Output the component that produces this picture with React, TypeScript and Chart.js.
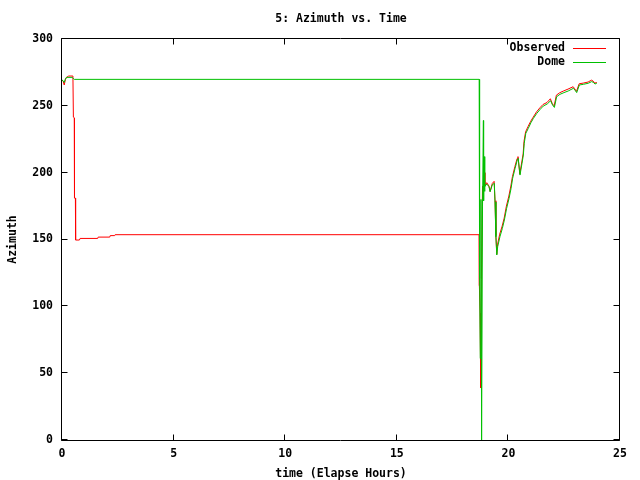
import React, { useEffect, useRef } from 'react';
import { Chart, registerables } from 'chart.js';

Chart.register(...registerables);

const chartTitle = '5: Azimuth vs. Time';
const xTitle = 'time (Elapse Hours)';
const yTitle = 'Azimuth';
const seriesLabels = ['Observed', 'Dome'];
const seriesColors = ['#ff0000', '#00c000'];

const xTicks = [0, 5, 10, 15, 20, 25];
const yTicks = [0, 50, 100, 150, 200, 250, 300];

const obsTime = [
  0.0, 0.05, 0.1, 0.15, 0.2, 0.3, 0.49, 0.51, 0.55, 0.56, 0.6, 0.61, 0.78, 0.81, 1.6, 1.62, 2.14, 2.16, 2.36, 2.38,
  18.69, 18.7, 18.73, 18.76, 18.76, 18.79, 18.84, 18.88, 18.91, 18.95, 19.03, 19.13, 19.18, 19.28, 19.36, 19.4,
  19.44, 19.48, 19.51, 19.61, 19.72, 19.81, 19.91, 20.02, 20.11, 20.18, 20.29, 20.39, 20.43, 20.51, 20.6, 20.66,
  20.7, 20.77, 20.88, 21.0, 21.11, 21.26, 21.41, 21.55, 21.73, 21.88, 21.97, 22.05, 22.15, 22.3, 22.48, 22.67,
  22.9, 22.97, 23.05, 23.17, 23.35, 23.57, 23.72, 23.79, 23.87, 23.96,
];
const obsAzimuth = [
  269.3, 268.5, 265.6, 269.5, 271.3, 272.3, 272.3, 241.5, 241, 181, 181, 149.6, 149.6, 150.8, 150.8, 151.8, 151.8,
  152.9, 152.9, 153.6, 153.6, 115.4, 95, 68, 39, 120, 190, 182, 200, 190, 192.5, 190, 186, 192, 193.5, 179, 153,
  139, 146, 154, 160, 166, 175, 182.5, 190, 197, 204.5, 210.5, 212, 199, 208, 214, 223.5, 230.5, 234.5, 238.5,
  241.5, 245.5, 248.5, 251, 252.5, 255.3, 251.5, 250, 258, 259.8, 261.2, 262.5, 264.3, 262.8, 260.8, 266.5, 267,
  267.8, 269.2, 268.6, 267, 267.5,
];

const domeTime = [
  0.0, 0.05, 0.1, 0.15, 0.2, 0.45, 0.55, 18.69, 18.7, 18.72, 18.74, 18.77, 18.8, 18.84, 18.88, 18.89, 18.91, 18.93,
  18.95, 19.03, 19.13, 19.18, 19.28, 19.37, 19.4, 19.44, 19.48, 19.52, 19.62, 19.73, 19.82, 19.92, 20.03, 20.12,
  20.19, 20.3, 20.4, 20.44, 20.52, 20.61, 20.67, 20.71, 20.78, 20.89, 21.01, 21.12, 21.27, 21.42, 21.56, 21.74,
  21.89, 21.98, 22.06, 22.16, 22.31, 22.49, 22.68, 22.91, 22.98, 23.06, 23.18, 23.36, 23.58, 23.73, 23.8, 23.88,
  23.96,
];
const domeAzimuth = [
  269.3, 268.8, 267.5, 270, 271.3, 271.3, 269.8, 269.8, 203, 121, 61, 180, 0, 175, 239, 179, 212, 186, 189.5,
  191.5, 189.5, 185.7, 191, 192, 178, 152, 138.4, 144.6, 152, 158.3, 164.6, 173.3, 180.8, 188.3, 195.8, 203.3,
  209.5, 210.7, 198.2, 207, 213.2, 222, 229.4, 233.1, 237.4, 240.6, 244.3, 247.3, 249.8, 251.4, 253.8, 250.6,
  248.8, 256.8, 258.6, 259.9, 261.1, 263.1, 261.8, 259.9, 265.6, 266.1, 266.9, 268.1, 267.6, 266.3, 266.9,
];

const FONT_FAMILY = '"DejaVu Sans Mono", "Liberation Mono", monospace';
const FONT = { family: FONT_FAMILY, size: 11.5, weight: 'bold' as const, lineHeight: 1.2 };
const XTITLE_FONT = { family: FONT_FAMILY, size: 11.5, weight: 'bold' as const, lineHeight: 1.0 };

const toPoints = (xs: number[], ys: number[]) => xs.map((x, i) => ({ x, y: ys[i] }));

const framePlugin = {
  id: 'gnuplotFrame',
  afterDatasetsDraw(chart: any) {
    const { ctx, chartArea: a, scales } = chart;
    const L = Math.round(a.left) - 0.5;
    const R = Math.round(a.right) - 0.5;
    const T = Math.round(a.top) - 0.5;
    const B = Math.round(a.bottom) + 0.5;
    const len = 6;
    ctx.save();
    ctx.strokeStyle = '#000';
    ctx.lineWidth = 1;
    ctx.beginPath();
    ctx.rect(L, T, R - L, B - T);
    for (const v of xTicks) {
      const px = Math.round(scales.x.getPixelForValue(v)) - 0.5;
      ctx.moveTo(px, B);
      ctx.lineTo(px, B - len);
      ctx.moveTo(px, T);
      ctx.lineTo(px, T + len);
    }
    for (const v of yTicks) {
      const py = Math.round(scales.y.getPixelForValue(v)) - 0.5;
      ctx.moveTo(L, py);
      ctx.lineTo(L + len, py);
      ctx.moveTo(R, py);
      ctx.lineTo(R - len, py);
    }
    ctx.stroke();

    // legend (gnuplot style: text then line sample, top right inside)
    ctx.font = `bold ${FONT.size}px ${FONT_FAMILY}`;
    ctx.textAlign = 'right';
    ctx.textBaseline = 'middle';
    seriesLabels.forEach((label, i) => {
      const y = Math.round(a.top + 9 + i * 14) + 0.5;
      ctx.fillStyle = '#000';
      ctx.fillText(label, a.right - 55, y);
      ctx.strokeStyle = seriesColors[i];
      ctx.beginPath();
      ctx.moveTo(a.right - 47, y);
      ctx.lineTo(a.right - 14, y);
      ctx.stroke();
    });
    ctx.restore();
  },
};

export default function App() {
  const ref = useRef<HTMLCanvasElement | null>(null);

  useEffect(() => {
    document.body.style.margin = '0';
    if (!ref.current) return;
    const chart = new Chart(ref.current, {
      type: 'line',
      data: {
        datasets: [
          {
            label: seriesLabels[0],
            data: toPoints(obsTime, obsAzimuth),
            borderColor: seriesColors[0],
            backgroundColor: seriesColors[0],
            borderWidth: 1,
            pointRadius: 0,
            tension: 0,
            order: 1,
          },
          {
            label: seriesLabels[1],
            data: toPoints(domeTime, domeAzimuth),
            borderColor: seriesColors[1],
            backgroundColor: seriesColors[1],
            borderWidth: 1,
            pointRadius: 0,
            tension: 0,
            order: 0,
          },
        ],
      },
      options: {
        responsive: false,
        animation: false,
        devicePixelRatio: 1,
        layout: { padding: { top: 0, right: 20, bottom: 0, left: 0 } },
        plugins: {
          legend: { display: false },
          tooltip: { enabled: false },
          title: {
            display: true,
            text: chartTitle,
            color: '#000',
            font: FONT,
            fullSize: false,
            padding: { top: 12, bottom: 13.2 },
          },
        },
        scales: {
          x: {
            type: 'linear',
            min: 0,
            max: 25,
            afterFit: (s: any) => {
              s.height = 40;
            },
            afterBuildTicks: (s: any) => {
              s.ticks = xTicks.map((v) => ({ value: v }));
            },
            grid: { display: false, drawTicks: false },
            border: { display: false },
            ticks: { color: '#000', font: FONT, padding: 7, maxRotation: 0, autoSkip: false },
            title: { display: true, text: xTitle, color: '#000', font: XTITLE_FONT, padding: { top: 0, bottom: 0 } },
          },
          y: {
            type: 'linear',
            min: 0,
            max: 300,
            afterFit: (s: any) => {
              s.width = 62;
            },
            afterBuildTicks: (s: any) => {
              s.ticks = yTicks.map((v) => ({ value: v }));
            },
            grid: { display: false, drawTicks: false },
            border: { display: false },
            ticks: { color: '#000', font: FONT, padding: 9, autoSkip: false },
            title: { display: true, text: yTitle, color: '#000', font: FONT, padding: { top: 6.4, bottom: 0 } },
          },
        },
      },
      plugins: [framePlugin],
    });
    return () => chart.destroy();
  }, []);

  return (
    <div style={{ width: 640, height: 480, background: '#fff' }}>
      <canvas ref={ref} width={640} height={480} />
    </div>
  );
}
